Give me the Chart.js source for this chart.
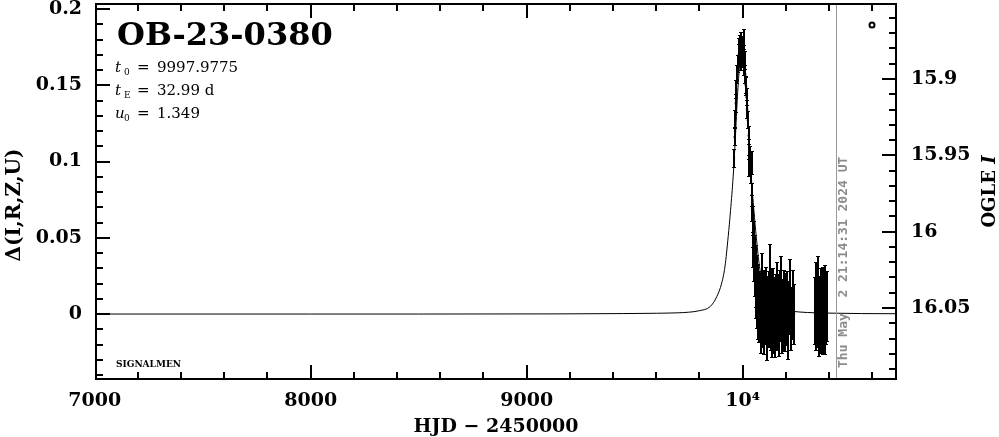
<!DOCTYPE html>
<html>
<head>
<meta charset="utf-8">
<script src="https://cdn.jsdelivr.net/npm/chart.js@4.4.1/dist/chart.umd.min.js"></script>
<style>
  html, body { margin: 0; padding: 0; background: #ffffff; }
  #wrap { width: 999px; height: 437px; }
</style>
</head>
<body>
<div id="wrap"><canvas id="c" width="999" height="437"></canvas></div>
<script>
// ---------------- data ----------------
const eventName = 'OB-23-0380';
const paramT0 = '9997.9775';
const paramTE = '32.99 d';
const paramU0 = '1.349';
const stampText = 'Thu May  2 21:14:31 2024 UT';
const stampHJD = 10433;

// model curve (HJD-2450000, Δ)
const modelHJD = [7006, 8000, 8500, 9150, 9450, 9600, 9700, 9750, 9800, 9849, 9880, 9903, 9918, 9933, 9944, 9956, 9966, 9976, 9986, 9998,
                  10010, 10020, 10030, 10040, 10052, 10063, 10078, 10093, 10116, 10147, 10180, 10230, 10300, 10400, 10550, 10710];
const modelDelta = [0, 0, 0, 0.0001, 0.0003, 0.0005, 0.0008, 0.0012, 0.0022, 0.0048, 0.0113, 0.0203, 0.031, 0.0507, 0.068, 0.090, 0.115, 0.143, 0.163, 0.173,
                  0.163, 0.143, 0.115, 0.090, 0.068, 0.0507, 0.031, 0.0203, 0.0113, 0.0048, 0.003, 0.0018, 0.001, 0.0006, 0.0003, 0.0002];

// OGLE I photometry (HJD-2450000, mag, error)
const obsHJD = [
  9960, 9963, 9966, 9968, 9971, 9976, 9979, 9982, 9984, 9986, 9988, 9990, 9992, 9994, 9996, 9998,
  10000, 10002, 10004, 10006, 10008, 10010, 10012, 10014, 10016, 10018, 10020, 10024, 10028, 10031, 10031, 10034,
  10038, 10041, 10042, 10043, 10046, 10049, 10050, 10052, 10054, 10056, 10058, 10060, 10062, 10064, 10066, 10068,
  10070, 10072, 10075,
  10078, 10081, 10084, 10087, 10090, 10093, 10096, 10099, 10102, 10105, 10108, 10111, 10114, 10117, 10120, 10123,
  10126, 10129, 10132, 10135, 10138, 10141, 10144, 10147, 10150, 10153, 10156, 10159, 10162, 10165, 10168, 10171,
  10174, 10177, 10180, 10184, 10188, 10192, 10196, 10200, 10205, 10210, 10215, 10220, 10226, 10232, 10238,
  10335, 10338, 10341, 10344, 10347, 10350, 10353, 10356, 10359, 10362, 10365, 10368, 10371, 10374, 10377, 10380,
  10383, 10386, 10389
];
const obsMag = [
  15.952, 15.938, 15.926, 15.916, 15.907, 15.897, 15.890, 15.884, 15.879, 15.886, 15.877, 15.882, 15.889, 15.875, 15.883, 15.879,
  15.887, 15.878, 15.874, 15.884, 15.892, 15.888, 15.897, 15.904, 15.905, 15.912, 15.920, 15.927, 15.937, 15.946, 15.957, 15.951,
  15.962, 15.955, 15.976, 15.985, 15.993, 16.000, 16.012, 16.005, 16.020, 16.016, 16.028, 16.034, 16.024, 16.040, 16.031, 16.046,
  16.038, 16.052, 16.044,
  16.055, 16.042, 16.060, 16.048, 16.036, 16.058, 16.050, 16.064, 16.044, 16.053, 16.039, 16.061, 16.047, 16.056, 16.043, 16.052,
  16.042, 16.059, 16.046, 16.065, 16.051, 16.040, 16.057, 16.049, 16.062, 16.045, 16.054, 16.038, 16.058, 16.050, 16.063, 16.046,
  16.055, 16.041, 16.060, 16.049, 16.056, 16.044, 16.058, 16.051, 16.046, 16.062, 16.050, 16.043, 16.057, 16.048, 16.054,
  16.052, 16.044, 16.058, 16.047, 16.055, 16.041, 16.060, 16.049, 16.054, 16.045, 16.057, 16.050, 16.043, 16.056, 16.048, 16.059,
  16.046, 16.053, 16.049
];
const obsErr = [
  0.006, 0.006, 0.006, 0.006, 0.006, 0.006, 0.006, 0.007, 0.006, 0.006, 0.006, 0.007, 0.006, 0.006, 0.006, 0.006,
  0.006, 0.006, 0.007, 0.006, 0.006, 0.006, 0.006, 0.006, 0.006, 0.006, 0.006, 0.006, 0.006, 0.007, 0.007, 0.007,
  0.007, 0.008, 0.008, 0.009, 0.010, 0.011, 0.012, 0.012, 0.013, 0.014, 0.015, 0.016, 0.015, 0.017, 0.016, 0.018,
  0.017, 0.019, 0.018,
  0.018, 0.015, 0.020, 0.016, 0.022, 0.018, 0.025, 0.017, 0.019, 0.021, 0.016, 0.024, 0.018, 0.020, 0.017, 0.022,
  0.034, 0.019, 0.022, 0.018, 0.020, 0.016, 0.023, 0.019, 0.021, 0.017, 0.024, 0.018, 0.020, 0.022, 0.019, 0.021,
  0.017, 0.025, 0.020, 0.018, 0.023, 0.019, 0.021, 0.024, 0.020, 0.022, 0.018, 0.025, 0.021, 0.023, 0.020,
  0.022, 0.024, 0.020, 0.023, 0.021, 0.025, 0.022, 0.020, 0.024, 0.021, 0.023, 0.022, 0.020, 0.025, 0.021, 0.022,
  0.024, 0.021, 0.023
];

// axis ticks and labels
const xMajorTicks = [7000, 8000, 9000, 10000];
const xTickLabels = ['7000', '8000', '9000', '10⁴'];
const leftMajorTicks = [0, 0.05, 0.1, 0.15, 0.2];
const leftTickLabels = ['0', '0.05', '0.1', '0.15', '0.2'];
const rightMajorTicks = [15.9, 15.95, 16, 16.05];
const rightTickLabels = ['15.9', '15.95', '16', '16.05'];
const xTitle = 'HJD − 2450000';
const leftTitle = 'Δ(I,R,Z,U)';
const rightTitleMain = 'OGLE ';
const rightTitleItalic = 'I';
const footText = 'SIGNALMEN';

// ---------------- chart ----------------
const SERIF = '"DejaVu Serif", "Liberation Serif", serif';
const tickFont = { family: SERIF, size: 19, weight: 'bold' };

const decorPlugin = {
  id: 'decor',
  afterDatasetsDraw(chart) {
    const { ctx, chartArea: a, scales } = chart;
    const xs = scales.x, y2 = scales.y2;
    ctx.save();
    ctx.beginPath();
    ctx.rect(a.left, a.top, a.right - a.left, a.bottom - a.top);
    ctx.clip();
    ctx.strokeStyle = '#000';
    ctx.lineWidth = 2;
    ctx.beginPath();
    for (let i = 0; i < obsHJD.length; i++) {
      const px = Math.round(xs.getPixelForValue(obsHJD[i]));
      const p1 = Math.round(y2.getPixelForValue(obsMag[i] - obsErr[i]));
      const p2 = Math.round(y2.getPixelForValue(obsMag[i] + obsErr[i]));
      ctx.moveTo(px, p1); ctx.lineTo(px, p2);
    }
    ctx.stroke();
    ctx.lineWidth = 1;
    ctx.beginPath();
    for (let i = 0; i < obsHJD.length; i++) {
      const px = Math.round(xs.getPixelForValue(obsHJD[i]));
      const p1 = Math.round(y2.getPixelForValue(obsMag[i] - obsErr[i])) + 0.5;
      const p2 = Math.round(y2.getPixelForValue(obsMag[i] + obsErr[i])) - 0.5;
      ctx.moveTo(px - 2, p1); ctx.lineTo(px + 2, p1);
      ctx.moveTo(px - 2, p2); ctx.lineTo(px + 2, p2);
    }
    ctx.stroke();
    ctx.restore();
  },
  afterDraw(chart) {
    const { ctx, chartArea: a, scales } = chart;
    const xs = scales.x, ys = scales.y, y2 = scales.y2;
    ctx.save();
    // date stamp line
    const sx = Math.round(xs.getPixelForValue(stampHJD)) + 0.5;
    ctx.strokeStyle = '#9a9a9a';
    ctx.lineWidth = 1;
    ctx.beginPath(); ctx.moveTo(sx, a.top); ctx.lineTo(sx, a.bottom); ctx.stroke();
    ctx.save();
    ctx.translate(sx + 7, a.bottom - 11);
    ctx.rotate(-Math.PI / 2);
    ctx.fillStyle = '#8c8c8c';
    ctx.font = 'bold 13px "DejaVu Sans Mono", monospace';
    ctx.textAlign = 'left';
    ctx.textBaseline = 'middle';
    ctx.fillText(stampText, 0, 0);
    ctx.restore();

    // frame
    ctx.strokeStyle = '#000';
    ctx.lineWidth = 2;
    ctx.strokeRect(a.left, a.top, a.right - a.left, a.bottom - a.top);

    // inward ticks
    const MAJ = 14, MIN = 7;
    ctx.beginPath();
    for (let v = 7000; v <= 10800; v += 200) {
      const px = Math.round(xs.getPixelForValue(v));
      if (px <= a.left + 1 || px >= a.right - 1) continue;
      const len = (v % 1000 === 0) ? MAJ : MIN;
      ctx.moveTo(px, a.bottom); ctx.lineTo(px, a.bottom - len);
      ctx.moveTo(px, a.top); ctx.lineTo(px, a.top + len);
    }
    for (let k = -5; k <= 21; k++) {
      const v = k / 100;
      const py = Math.round(ys.getPixelForValue(v));
      if (py <= a.top || py >= a.bottom) continue;
      const len = (k % 5 === 0) ? MAJ : MIN;
      ctx.moveTo(a.left, py); ctx.lineTo(a.left + len, py);
    }
    for (let k = 1585; k <= 1610; k++) {
      const v = k / 100;
      const py = Math.round(y2.getPixelForValue(v));
      if (py <= a.top || py >= a.bottom) continue;
      const len = (k % 5 === 0) ? MAJ : MIN;
      ctx.moveTo(a.right, py); ctx.lineTo(a.right - len, py);
    }
    ctx.stroke();

    // legend symbol for the OGLE data
    ctx.lineWidth = 2;
    ctx.beginPath();
    ctx.arc(a.right - 24, a.top + 21, 2.5, 0, Math.PI * 2);
    ctx.stroke();

    // event name and parameters
    ctx.fillStyle = '#000';
    ctx.textAlign = 'left';
    ctx.textBaseline = 'alphabetic';
    ctx.font = 'bold 32px ' + SERIF;
    ctx.fillText(eventName, a.left + 21, 45);

    const rows = [
      { sym: 't', sub: '0', val: paramT0, base: 72 },
      { sym: 't', sub: 'E', val: paramTE, base: 95 },
      { sym: 'u', sub: '0', val: paramU0, base: 118 }
    ];
    rows.forEach(r => {
      ctx.font = 'italic 15px ' + SERIF;
      ctx.fillText(r.sym, a.left + 19, r.base);
      ctx.font = '9px ' + SERIF;
      ctx.fillText(r.sub, a.left + 28, r.base + 3);
      ctx.font = '15px ' + SERIF;
      ctx.fillText('=', a.left + 41, r.base);
      ctx.fillText(r.val, a.left + 61, r.base);
    });

    ctx.font = 'bold 9px ' + SERIF;
    ctx.fillText(footText, a.left + 20, a.bottom - 12);

    // y axis titles
    ctx.save();
    ctx.translate(15, 205);
    ctx.rotate(-Math.PI / 2);
    ctx.textAlign = 'center';
    ctx.textBaseline = 'middle';
    ctx.font = 'bold 20px ' + SERIF;
    ctx.fillText(leftTitle, 0, 0);
    ctx.restore();

    ctx.save();
    ctx.translate(990, (a.top + a.bottom) / 2);
    ctx.rotate(-Math.PI / 2);
    ctx.textBaseline = 'middle';
    ctx.font = 'bold 18px ' + SERIF;
    const w1 = ctx.measureText(rightTitleMain).width;
    ctx.font = 'italic bold 18px ' + SERIF;
    const w2 = ctx.measureText(rightTitleItalic).width;
    ctx.textAlign = 'left';
    ctx.font = 'bold 18px ' + SERIF;
    ctx.fillText(rightTitleMain, -(w1 + w2) / 2, 0);
    ctx.font = 'italic bold 18px ' + SERIF;
    ctx.fillText(rightTitleItalic, -(w1 + w2) / 2 + w1, 0);
    ctx.restore();

    ctx.restore();
  }
};

const fitV = w => s => { s.width = w; s.paddingTop = 0; s.paddingBottom = 0; };

new Chart(document.getElementById('c'), {
  type: 'scatter',
  data: {
    datasets: [
      {
        type: 'line',
        label: 'model',
        data: modelHJD.map((t, i) => ({ x: t, y: modelDelta[i] })),
        yAxisID: 'y',
        borderColor: '#000',
        borderWidth: 1,
        pointRadius: 0,
        fill: false,
        cubicInterpolationMode: 'monotone'
      },
      {
        label: 'OGLE I',
        data: obsHJD.map((t, i) => ({ x: t, y: obsMag[i] })),
        yAxisID: 'y2',
        pointStyle: 'rect',
        pointRadius: 1.5,
        backgroundColor: '#000',
        borderColor: '#000',
        borderWidth: 0
      }
    ]
  },
  options: {
    responsive: false,
    animation: false,
    devicePixelRatio: 1,
    layout: { padding: { top: 4, left: 0, right: 0, bottom: 0 } },
    plugins: { legend: { display: false }, tooltip: { enabled: false } },
    scales: {
      x: {
        type: 'linear', position: 'bottom', min: 7006, max: 10710,
        afterBuildTicks: s => { s.ticks = xMajorTicks.map(v => ({ value: v })); },
        afterFit: s => { s.height = 58; s.paddingLeft = 0; s.paddingRight = 0; },
        grid: { display: false, drawTicks: false },
        border: { display: false },
        ticks: {
          font: tickFont, color: '#000', padding: 11, maxRotation: 0, autoSkip: false,
          callback: v => xTickLabels[xMajorTicks.indexOf(v)]
        },
        title: {
          display: true, text: xTitle, color: '#000',
          font: { family: SERIF, size: 19, weight: 'bold', lineHeight: 1.0 },
          padding: { top: 0, bottom: 0 }
        }
      },
      y: {
        type: 'linear', position: 'left', min: -0.0426, max: 0.2033,
        afterBuildTicks: s => { s.ticks = leftMajorTicks.map(v => ({ value: v })); },
        afterFit: fitV(96),
        grid: { display: false, drawTicks: false },
        border: { display: false },
        ticks: {
          font: tickFont, color: '#000', padding: 14,
          callback: v => leftTickLabels[leftMajorTicks.indexOf(v)]
        }
      },
      y2: {
        type: 'linear', position: 'right', reverse: true, min: 15.8509, max: 16.0965,
        afterBuildTicks: s => { s.ticks = rightMajorTicks.map(v => ({ value: v })); },
        afterFit: fitV(103),
        grid: { display: false, drawTicks: false },
        border: { display: false },
        ticks: {
          font: tickFont, color: '#000', padding: 15,
          callback: v => rightTickLabels[rightMajorTicks.indexOf(v)]
        }
      }
    }
  },
  plugins: [decorPlugin]
});
</script>
</body>
</html>
